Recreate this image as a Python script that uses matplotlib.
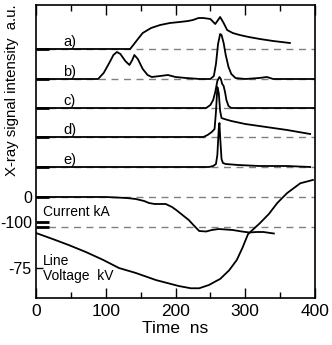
import matplotlib
matplotlib.use("Agg")
import matplotlib.pyplot as plt

plt.rcParams['font.family'] = ['Liberation Sans', 'DejaVu Sans']

# X-ray traces (a.u.), time in ns
t_a = [0, 135, 145, 153, 165, 178, 192, 206, 218, 225, 233, 240, 250, 257, 264, 269, 274, 282, 292, 305, 321, 340, 364]
sig_a = [0, 0, 9, 16, 21, 24, 26, 27, 28, 29, 31, 31, 30, 25, 32, 26, 19, 16, 14, 12, 10, 8, 6]

t_b = [0, 89, 97, 105, 111, 116, 121, 128, 134, 138, 141, 146, 153, 160, 166, 178, 189, 200, 215, 235,
       250, 255, 258, 261, 264, 266, 269, 272, 276, 280, 286, 300, 320, 331, 340, 400]
sig_b = [0, 0, 6, 16, 24, 27, 25, 18, 14, 19, 24, 20, 10, 4, 2, 3, 4, 2, 1, 0,
         0, 3, 15, 35, 45, 44, 36, 24, 12, 5, 1, 0, 1, 2, 0, 0]

t_c = [0, 244, 250, 254, 257, 260, 263, 265, 267, 269, 271, 273, 276, 280, 400]
sig_c = [0, 0, 3, 8, 16, 27, 31, 29, 24, 22, 16, 8, 2, 0, 0]

t_d = [0, 240, 246, 252, 256, 258, 260, 262, 264, 266, 270, 280, 300, 330, 360, 393]
sig_d = [0, 0, 2, 5, 8, 25, 50, 44, 26, 19, 18, 16, 13, 10, 7, 3]

t_e = [0, 248, 254, 258, 260, 262, 263, 264, 266, 268, 272, 290, 320, 360, 393]
sig_e = [0, 0, 1, 3, 12, 38, 44, 30, 8, 4, 3, 2, 1, 1, 0]

# current (kA) and line voltage (kV)
t_cur = [0, 100, 130, 143, 155, 162, 170, 176, 186, 195, 201, 210, 219, 227, 234, 244,
         252, 262, 272, 282, 295, 306, 316, 326, 341]
current = [0, 0, -4, -8, -16, -24, -28, -28, -28, -40, -52, -72, -92, -116, -136, -138,
           -132, -128, -130, -132, -138, -142, -140, -140, -146]

t_volt = [0, 24, 47, 72, 96, 119, 143, 172, 205, 222, 234, 248, 258, 264, 277, 288,
          296, 304, 321, 334, 346, 360, 379, 397]
voltage = [-11, -22, -33, -46, -60, -75, -84, -97, -108, -112, -112, -106, -99, -95, -79, -60,
           -38, -13, 7, 24, 44, 62, 80, 86]

trace_labels = ['a)', 'b)', 'c)', 'd)', 'e)']

# layout: vertical offsets of each trace on the shared axis
offsets = [249, 219, 190, 161, 131]
cur_zero, cur_scale = 101, 0.25
volt_zero, volt_scale = 71, 0.547

fig = plt.figure(figsize=(3.32, 3.45), dpi=100)
ax = fig.add_axes([36/332, 47/345, 279/332, 293/345])

traces = [(t_a, sig_a), (t_b, sig_b), (t_c, sig_c), (t_d, sig_d), (t_e, sig_e)]
for (tt, ss), off, lab in zip(traces, offsets, trace_labels):
    ax.axhline(off, color='#808080', ls=(0, (5, 4)), lw=1, zorder=1)
    ax.plot(tt, [off + s for s in ss], color='black', lw=1.3, zorder=3)
    ax.text(39, off + 7, lab, fontsize=10.5, va='center', ha='left')

ax.axhline(cur_zero, color='#808080', ls=(0, (5, 4)), lw=1, zorder=1)
ax.axhline(volt_zero, color='#808080', ls=(0, (5, 4)), lw=1, zorder=1)
ax.plot(t_cur, [cur_zero + c * cur_scale for c in current], color='black', lw=1.3, zorder=3)
ax.plot(t_volt, [volt_zero + v * volt_scale for v in voltage], color='black', lw=1.3, zorder=3)

ax.text(10, 86, 'Current kA', fontsize=10, va='center', ha='left')
ax.text(10, 37, 'Line', fontsize=10, va='center', ha='left')
ax.text(10, 22, 'Voltage  kV', fontsize=10, va='center', ha='left')

ax.set_xlim(0, 400)
ax.set_ylim(0, 293)
ax.set_xticks([0, 100, 200, 300, 400])
ax.set_xticks([50, 150, 250, 350], minor=True)
ax.tick_params(axis='x', which='major', direction='in', top=True, length=7, width=1, labelsize=12.5, pad=4)
ax.tick_params(axis='x', which='minor', direction='in', top=True, length=4, width=1)

ax.set_yticks(offsets + [cur_zero, cur_zero - 100 * cur_scale, volt_zero])
ax.set_yticklabels(['', '', '', '', '', '0', '-100', ''])
ax.set_yticks([volt_zero - 75 * volt_scale], minor=True)
ax.set_yticklabels(['-75'], minor=True)
ax.tick_params(axis='y', which='major', direction='in', length=9, width=2, labelsize=11.5, pad=3)
ax.tick_params(axis='y', which='minor', direction='in', length=5, width=1, labelsize=11.5, pad=3)

for sp in ax.spines.values():
    sp.set_linewidth(1.2)

ax.set_xlabel('Time  ns', fontsize=12.5, labelpad=2)
fig.text(12/332, 1 - 90/345, 'X-ray signal intensity  a.u.', rotation=90,
         fontsize=10.8, ha='center', va='center')

fig.savefig('out.png', dpi=100)
